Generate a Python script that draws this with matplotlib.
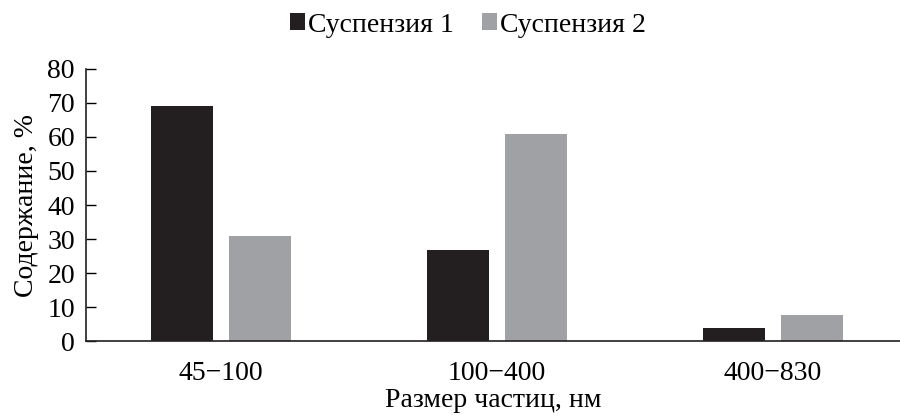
import matplotlib; matplotlib.use("Agg")
import matplotlib.pyplot as plt
import numpy as np

categories = ["45\u2212100", "100\u2212400", "400\u2212830"]
susp1 = [69.2, 26.8, 3.8]
susp2 = [30.9, 61.0, 7.6]
series_names = ["Суспензия 1", "Суспензия 2"]

plt.rcParams["font.family"] = ["Liberation Serif", "DejaVu Serif"]
plt.rcParams["font.size"] = 20

fig = plt.figure(figsize=(9, 4.15), dpi=100)
ax = fig.add_axes([0.0956, 0.178, 0.904, 0.656])

x = np.arange(len(categories))
w = 0.225
ax.bar(x - 0.142, susp1, w, color="#231f20", label=series_names[0])
ax.bar(x + 0.142, susp2, w, color="#a0a1a5", label=series_names[1])

ax.set_xlim(-0.489, 2.46)
ax.set_ylim(0, 80)
ax.set_yticks(range(0, 81, 10))
ax.set_xticks(x)
ax.set_xticklabels(categories)
ax.tick_params(axis="x", length=0, pad=14)
ax.tick_params(axis="y", length=7, width=1, pad=8, direction="in")
for s in ["top", "right"]:
    ax.spines[s].set_visible(False)
for s in ["left", "bottom"]:
    ax.spines[s].set_color("#231f20")
    ax.spines[s].set_linewidth(1.2)

ax.set_ylabel("Содержание, %", labelpad=6)
ax.set_xlabel("Размер частиц, нм", labelpad=2)

fig.legend(loc="upper center", bbox_to_anchor=(0.52, 1.03), ncol=2, frameon=False,
           handlelength=0.55, handleheight=0.55, handletextpad=0.1, columnspacing=1.0)

fig.savefig("out.png", dpi=100)
